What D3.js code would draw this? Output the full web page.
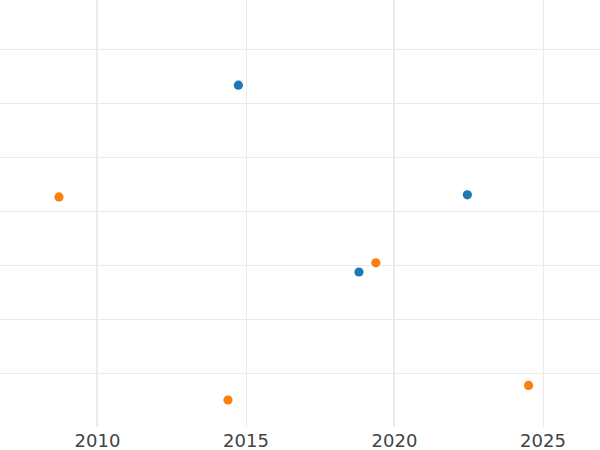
<!DOCTYPE html>
<html><head><meta charset="utf-8">
<script src="https://cdn.jsdelivr.net/npm/d3@7"></script>
<style>body{margin:0;background:#fff}svg{display:block}</style>
</head><body>
<div id="chart"></div>
<script>
const seriesA_x = [2014.76, 2022.47, 2018.82];
const seriesA_y = [6.33, 4.30, 2.87];
const seriesB_x = [2008.72, 2014.41, 2019.39, 2024.53];
const seriesB_y = [4.26, 0.50, 3.04, 0.77];
const xMajorTicks = [2010, 2020];
const xMinorTicks = [2015, 2025];
const xTickLabels = [2010, 2015, 2020, 2025];
const yGridValues = [1, 2, 3, 4, 5, 6, 7];
const colors = ["#1f77b4", "#ff7f0e"];

const W = 600, H = 450;
const plotBottom = 427;
const svg = d3.select("#chart").append("svg").attr("width", W).attr("height", H);
const x = d3.scaleLinear().domain([2006.734, 2026.936]).range([0, W]);
const y = d3.scaleLinear().domain([0, 427/54]).range([plotBottom, 0]);

const g = svg.append("g");
g.selectAll(".hg").data(yGridValues).enter().append("line")
  .attr("x1", 0).attr("x2", W)
  .attr("y1", d => Math.round(y(d)) + 0.5).attr("y2", d => Math.round(y(d)) + 0.5)
  .attr("stroke", "#ebebeb").attr("stroke-width", 1);
g.selectAll(".vmin").data(xMinorTicks).enter().append("line")
  .attr("x1", d => Math.round(x(d)) + 0.5).attr("x2", d => Math.round(x(d)) + 0.5)
  .attr("y1", 0).attr("y2", plotBottom)
  .attr("stroke", "#ebebeb").attr("stroke-width", 1);
g.selectAll(".vmaj").data(xMajorTicks).enter().append("line")
  .attr("x1", d => x(d)).attr("x2", d => x(d))
  .attr("y1", 0).attr("y2", plotBottom)
  .attr("stroke", "#ebebeb").attr("stroke-width", 2);

const xAxis = d3.axisBottom(x).tickValues(xTickLabels).tickFormat(d3.format("d")).tickSize(0).tickPadding(7);
const ax = svg.append("g").attr("transform", `translate(0,${plotBottom})`).call(xAxis);
ax.select(".domain").remove();
ax.selectAll("text").attr("font-family", "DejaVu Sans, sans-serif").attr("font-size", 18).attr("fill", "#444");

const ptsA = seriesA_x.map((v, i) => ({x: v, y: seriesA_y[i]}));
const ptsB = seriesB_x.map((v, i) => ({x: v, y: seriesB_y[i]}));
svg.append("g").selectAll("circle").data(ptsA).enter().append("circle")
  .attr("cx", d => x(d.x)).attr("cy", d => y(d.y)).attr("r", 4.6).attr("fill", colors[0]);
svg.append("g").selectAll("circle").data(ptsB).enter().append("circle")
  .attr("cx", d => x(d.x)).attr("cy", d => y(d.y)).attr("r", 4.6).attr("fill", colors[1]);
</script>
</body></html>
